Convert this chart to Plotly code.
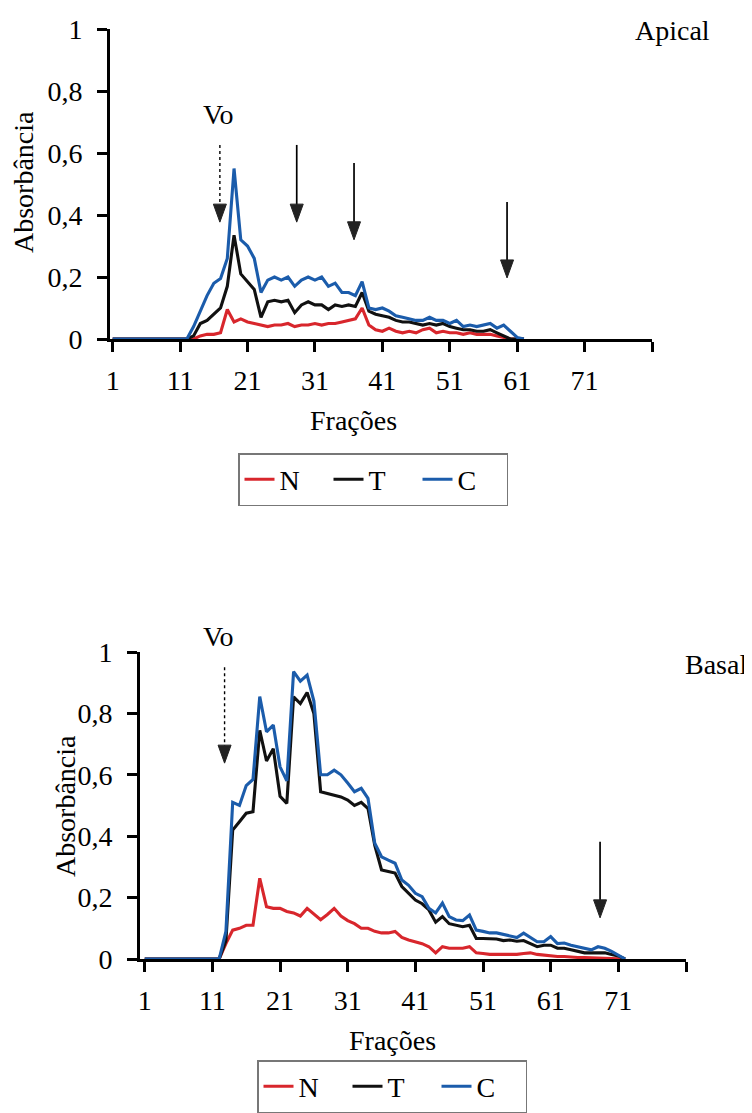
import plotly.graph_objects as go

# ---------------- data ----------------
fr_top = list(range(1, 63))
n_top = [0]*13 + [0.01, 0.015, 0.015, 0.02, 0.095, 0.055, 0.065, 0.055, 0.05,
                  0.045, 0.04, 0.045, 0.045, 0.05, 0.04, 0.045, 0.045, 0.05, 0.045,
                  0.05, 0.05, 0.055, 0.06, 0.065, 0.10, 0.045, 0.03, 0.025, 0.035,
                  0.025, 0.02, 0.025, 0.02, 0.03, 0.035, 0.02, 0.025, 0.02, 0.02,
                  0.015, 0.02, 0.015, 0.015, 0.015, 0.01, 0.005, 0, 0, 0]
t_top = [0]*12 + [0.01, 0.05, 0.06, 0.08, 0.10, 0.17, 0.335, 0.21, 0.185, 0.16,
                  0.07, 0.12, 0.125, 0.12, 0.125, 0.085, 0.11, 0.12, 0.11, 0.11,
                  0.095, 0.11, 0.105, 0.11, 0.105, 0.15, 0.09, 0.08, 0.075, 0.07,
                  0.06, 0.055, 0.055, 0.05, 0.045, 0.05, 0.045, 0.05, 0.04, 0.035,
                  0.03, 0.03, 0.025, 0.025, 0.03, 0.02, 0.01, 0, 0, 0]
c_top = [0]*12 + [0.04, 0.09, 0.14, 0.18, 0.195, 0.26, 0.55, 0.32, 0.30, 0.26,
                  0.15, 0.19, 0.20, 0.19, 0.20, 0.17, 0.19, 0.20, 0.19, 0.20,
                  0.17, 0.18, 0.15, 0.15, 0.14, 0.185, 0.10, 0.095, 0.10, 0.09,
                  0.075, 0.07, 0.065, 0.06, 0.06, 0.07, 0.06, 0.06, 0.05, 0.06,
                  0.04, 0.045, 0.04, 0.045, 0.05, 0.035, 0.045, 0.025, 0.005, 0]

fr_bot = list(range(1, 73))
n_bot = [0]*12 + [0.05, 0.094, 0.10, 0.11, 0.11, 0.263, 0.17, 0.165, 0.165, 0.155,
                  0.15, 0.14, 0.165, 0.145, 0.128, 0.145, 0.165, 0.14, 0.125, 0.115,
                  0.10, 0.10, 0.09, 0.085, 0.085, 0.09, 0.07, 0.062, 0.055, 0.05,
                  0.04, 0.02, 0.04, 0.035, 0.035, 0.035, 0.04, 0.02, 0.018, 0.015,
                  0.015, 0.015, 0.015, 0.015, 0.018, 0.02, 0.015, 0.012, 0.01, 0.008,
                  0.008, 0.006, 0.005, 0.005, 0.004, 0.003, 0.002, 0.001, 0, 0]
t_bot = [0]*12 + [0.06, 0.42, 0.447, 0.475, 0.48, 0.745, 0.645, 0.685, 0.53, 0.507,
                  0.854, 0.832, 0.868, 0.80, 0.545, 0.54, 0.535, 0.528, 0.518, 0.50,
                  0.51, 0.49, 0.37, 0.29, 0.285, 0.28, 0.236, 0.215, 0.192, 0.18,
                  0.16, 0.12, 0.138, 0.115, 0.11, 0.105, 0.11, 0.067, 0.067, 0.066,
                  0.065, 0.06, 0.062, 0.058, 0.06, 0.05, 0.04, 0.045, 0.045, 0.035,
                  0.035, 0.03, 0.025, 0.02, 0.02, 0.02, 0.02, 0.015, 0.01, 0]
c_bot = [0]*12 + [0.09, 0.51, 0.50, 0.565, 0.585, 0.855, 0.74, 0.762, 0.626, 0.58,
                  0.936, 0.905, 0.925, 0.84, 0.60, 0.60, 0.615, 0.60, 0.573, 0.545,
                  0.556, 0.523, 0.377, 0.333, 0.322, 0.312, 0.257, 0.24, 0.214, 0.203,
                  0.165, 0.15, 0.182, 0.138, 0.127, 0.125, 0.143, 0.094, 0.09, 0.085,
                  0.085, 0.08, 0.073, 0.07, 0.084, 0.07, 0.056, 0.056, 0.073, 0.05,
                  0.052, 0.045, 0.04, 0.035, 0.03, 0.04, 0.035, 0.025, 0.013, 0]

x_tickvals = [1, 11, 21, 31, 41, 51, 61, 71, 81]
x_ticktext = ["1", "11", "21", "31", "41", "51", "61", "71", ""]

# arrows: (fraction, tail value, tip value, dotted)
arrows_top = [(16.9, 0.626, 0.377, True), (28.3, 0.626, 0.377, False),
              (36.8, 0.568, 0.32, False), (59.5, 0.442, 0.197, False)]
arrows_bot = [(12.8, 0.95, 0.638, True), (68.3, 0.382, 0.134, False)]

# ---------------- style ----------------
OFF = 8                      # page body margin of the browser
W, H = 752 - OFF, 1113 - OFF  # figure size so the page fits the window
FONT = "Liberation Serif"
FS = 28
RED, BLACK, BLUE = "#d8262c", "#111111", "#1b5cab"

def px(x):
    return (x - OFF) / W

def py(y):
    return 1 - (y - OFF) / H

top_px = dict(x0=110, x1=652, y0=29, y1=339)
bot_px = dict(x0=140, x1=686, y0=652, y1=959)
top_xr = [0.6, 81]
bot_xr = [0.3, 81]

fig = go.Figure()
for name, ys, col in [("N", n_top, RED), ("T", t_top, BLACK), ("C", c_top, BLUE)]:
    fig.add_trace(go.Scatter(x=fr_top, y=ys, name=name, mode="lines",
                             line=dict(color=col, width=3.1),
                             xaxis="x", yaxis="y", legend="legend"))
for name, ys, col in [("N", n_bot, RED), ("T", t_bot, BLACK), ("C", c_bot, BLUE)]:
    fig.add_trace(go.Scatter(x=fr_bot, y=ys, name=name, mode="lines",
                             line=dict(color=col, width=3.1),
                             xaxis="x2", yaxis="y2", legend="legend2"))

axis_common = dict(showgrid=False, zeroline=False, showline=True, linecolor="black",
                   linewidth=3, ticks="outside", ticklen=10, tickwidth=3, automargin=False,
                   tickcolor="black", tickfont=dict(family=FONT, size=FS, color="black"))

def xdom(p):
    return [px(p["x0"]), px(p["x1"])]

def ydom(p):
    return [py(p["y1"]), py(p["y0"])]

legend_common = dict(orientation="h", xanchor="left", yanchor="top",
                     bordercolor="#777", borderwidth=1.5, bgcolor="white",
                     font=dict(family=FONT, size=FS, color="black"),
                     entrywidth=44, tracegroupgap=0)

fig.update_layout(
    width=W, height=H, margin=dict(l=0, r=0, t=0, b=0, pad=0), autosize=False,
    paper_bgcolor="white", plot_bgcolor="white", separators=",.",
    font=dict(family=FONT, size=FS, color="black"),
    xaxis=dict(domain=xdom(top_px), range=top_xr, tickvals=x_tickvals,
               ticktext=x_ticktext, anchor="y", ticklabelstandoff=4, **axis_common),
    yaxis=dict(domain=ydom(top_px), range=[0, 1], dtick=0.2, anchor="x",
               ticklabelstandoff=9, **axis_common),
    xaxis2=dict(domain=xdom(bot_px), range=bot_xr, tickvals=x_tickvals,
                ticktext=x_ticktext, anchor="y2", ticklabelstandoff=4, **axis_common),
    yaxis2=dict(domain=ydom(bot_px), range=[0, 1], dtick=0.2, anchor="x2",
                ticklabelstandoff=9, **axis_common),
    legend=dict(x=px(238), y=py(453), **legend_common),
    legend2=dict(x=px(257), y=0, **{**legend_common, "yanchor": "bottom"}),
)

def add_arrows(arrows, xr, yr, p, xname, yname):
    ppx = (p["x1"] - p["x0"]) / (xr[1] - xr[0])
    ppy = (p["y1"] - p["y0"]) / (yr[1] - yr[0])
    hw = 6.5 / ppx
    hh = 18 / ppy
    for fx, tail, tip, dotted in arrows:
        fig.add_shape(type="line", xref=xname, yref=yname, x0=fx, x1=fx,
                      y0=tail, y1=tip + hh * 0.8,
                      line=dict(color="black", width=1.4 if dotted else 1.7,
                                dash="dot" if dotted else "solid"))
        fig.add_shape(type="path", xref=xname, yref=yname,
                      path=f"M {fx - hw} {tip + hh} L {fx + hw} {tip + hh} L {fx} {tip} Z",
                      fillcolor="#222", line=dict(color="#222", width=1))

add_arrows(arrows_top, top_xr, [0, 1], top_px, "x", "y")
add_arrows(arrows_bot, bot_xr, [0, 1], bot_px, "x2", "y2")

def txt(s, xp, yp, angle=0, xanchor="center"):
    fig.add_annotation(text=s, x=px(xp), y=py(yp), xref="paper", yref="paper",
                       showarrow=False, textangle=angle, xanchor=xanchor, yanchor="middle",
                       font=dict(family=FONT, size=FS, color="black"))

txt("Absorbância", 23, 182, angle=-90)
txt("Absorbância", 65, 806, angle=-90)
txt("Frações", 353, 420)
txt("Frações", 392, 1040)
txt("Vo", 218, 115)
txt("Vo", 218, 636)
txt("Apical", 672, 30)
txt("Basal", 716, 664)

fig.write_html("out.html")
